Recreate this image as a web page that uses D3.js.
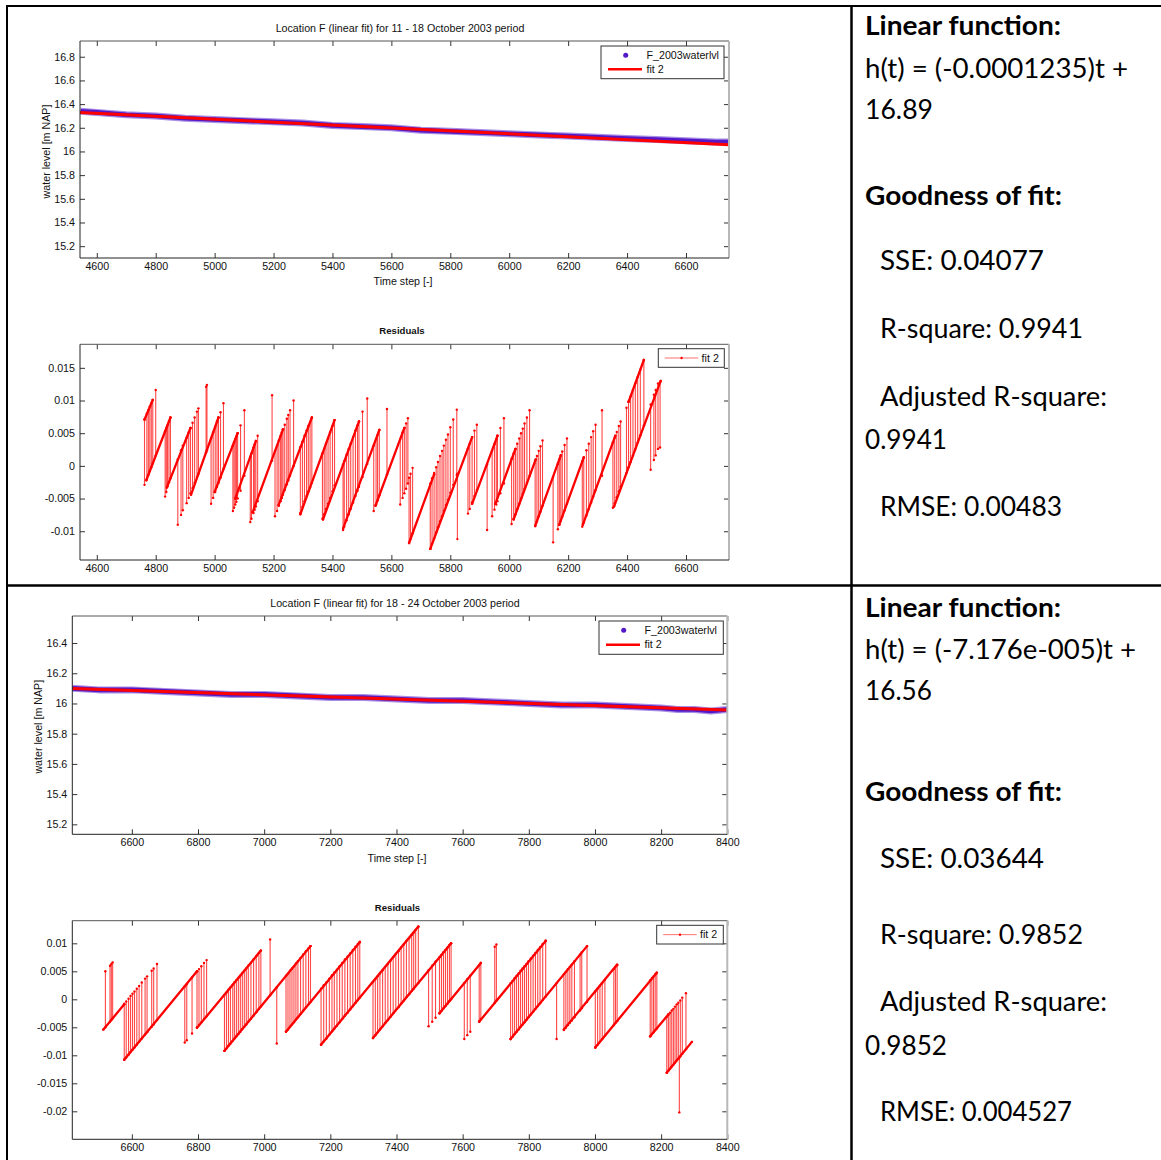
<!DOCTYPE html>
<html>
<head>
<meta charset="utf-8">
<script src="https://cdn.jsdelivr.net/npm/d3@7"></script>
<style>
  body { margin: 0; background: #fff; }
  svg { display: block; }
</style>
</head>
<body>
<svg id="fig" width="1161" height="1160"></svg>
<script>
// ---------------------------------------------------------------
// Location F water level, linear fits for two October 2003 periods
// ---------------------------------------------------------------

const periodTitles = [
  "Location F (linear fit) for 11 - 18 October 2003 period",
  "Location F (linear fit) for 18 - 24 October 2003 period"
];
const seriesName = "F_2003waterlvl";
const fitName = "fit 2";
const residualTitle = "Residuals";
const xAxisTitle = "Time step [-]";
const yAxisTitle = "water level [m NAP]";

// axis limits (time step, water level, residual)
const timeLimits = [[4543, 6746], [6420, 8400]];
const levelLimits = [[15.1, 16.933], [15.134, 16.579]];
const residualLimits = [[-0.0144, 0.0186], [-0.025, 0.01404]];

// tick values and labels
const timeTicks1 = [4600, 4800, 5000, 5200, 5400, 5600, 5800, 6000, 6200, 6400, 6600];
const timeTicks2 = [6600, 6800, 7000, 7200, 7400, 7600, 7800, 8000, 8200, 8400];
const levelTicks1 = [15.2, 15.4, 15.6, 15.8, 16, 16.2, 16.4, 16.6, 16.8];
const levelTickLabels1 = ["15.2", "15.4", "15.6", "15.8", "16", "16.2", "16.4", "16.6", "16.8"];
const levelTicks2 = [15.2, 15.4, 15.6, 15.8, 16, 16.2, 16.4];
const levelTickLabels2 = ["15.2", "15.4", "15.6", "15.8", "16", "16.2", "16.4"];
const residualTicks1 = [-0.01, -0.005, 0, 0.005, 0.01, 0.015];
const residualTickLabels1 = ["-0.01", "-0.005", "0", "0.005", "0.01", "0.015"];
const residualTicks2 = [-0.02, -0.015, -0.01, -0.005, 0, 0.005, 0.01];
const residualTickLabels2 = ["-0.02", "-0.015", "-0.01", "-0.005", "0", "0.005", "0.01"];

// fitted linear functions h(t) = slope * t + intercept
const fitSlopes = [-0.0001235, -7.176e-5];
const fitIntercepts = [16.89, 16.56];

// observed water level [m NAP]
const level1T = [4545, 4600, 4700, 4800, 4900, 5000, 5100, 5200, 5300, 5400, 5500, 5600,
                 5700, 5800, 5900, 6000, 6100, 6200, 6300, 6400, 6500, 6600, 6700, 6745];
const level1H = [16.34, 16.33, 16.31, 16.30, 16.28, 16.27, 16.26, 16.25, 16.24, 16.22, 16.21, 16.20,
                 16.18, 16.17, 16.16, 16.15, 16.14, 16.13, 16.12, 16.11, 16.10, 16.09, 16.08, 16.08];
const level2T = [6420, 6500, 6600, 6700, 6800, 6900, 7000, 7100, 7200, 7300, 7400, 7500,
                 7600, 7700, 7800, 7900, 8000, 8100, 8200, 8250, 8300, 8350, 8400];
const level2H = [16.10, 16.09, 16.09, 16.08, 16.07, 16.06, 16.06, 16.05, 16.04, 16.04, 16.03, 16.02,
                 16.02, 16.01, 16.00, 15.99, 15.99, 15.98, 15.97, 15.96, 15.96, 15.95, 15.96];

// residual ramps: [t start, residual start, t end, residual end]
const res1Ramps = [
  [4762, 0.0071, 4790, 0.0101], [4768, -0.0022, 4850, 0.0074], [4838, -0.0033, 4918, 0.0058],
  [4920, -0.0044, 5013, 0.0074], [5000, -0.0040, 5078, 0.0050], [5070, -0.0050, 5140, 0.0038],
  [5129, -0.0071, 5232, 0.0056], [5217, -0.0060, 5330, 0.0074], [5291, -0.0074, 5407, 0.0070],
  [5368, -0.0082, 5490, 0.0068], [5436, -0.0096, 5559, 0.0055], [5546, -0.0061, 5644, 0.0058],
  [5660, -0.0118, 5745, -0.0013], [5732, -0.0127, 5874, 0.0044], [5874, -0.0058, 5960, 0.0046],
  [5953, -0.0058, 6021, 0.0026], [6015, -0.0082, 6090, 0.0010], [6088, -0.0092, 6175, 0.0016],
  [6170, -0.0090, 6253, 0.0013], [6250, -0.0090, 6360, 0.0046], [6356, -0.0062, 6514, 0.0130],
  [6405, 0.0098, 6457, 0.0162]
];
// residual jumps between neighbouring levels: [t, lower residual, upper residual]
const res1Flicks = [
  [4762, -0.0029, 0.0071], [4770, -0.0020, 0.0080], [4775, -0.0014, 0.0085], [4780, -0.0008, 0.0091],
  [4785, -0.0002, 0.0096], [4790, 0.0004, 0.0101], [4800, 0.0016, 0.0116], [4832, -0.0047, 0.0053],
  [4836, -0.0040, 0.0058], [4840, -0.0031, 0.0062], [4845, -0.0025, 0.0068], [4850, -0.0019, 0.0074],
  [4875, -0.0090, 0.0010], [4886, -0.0075, 0.0024], [4892, -0.0068, 0.0031], [4905, -0.0057, 0.0043],
  [4912, -0.0049, 0.0051], [4918, -0.0042, 0.0058], [4925, -0.0034, 0.0066], [4932, -0.0026, 0.0074],
  [4940, -0.0017, 0.0083], [4945, -0.0012, 0.0088], [4971, 0.0021, 0.0121], [4974, 0.0024, 0.0124],
  [4988, -0.0058, 0.0042], [4995, -0.0049, 0.0051], [5002, -0.0040, 0.0060], [5008, -0.0032, 0.0068],
  [5013, -0.0026, 0.0074], [5020, -0.0018, 0.0082], [5030, -0.0004, 0.0096], [5062, -0.0069, 0.0031],
  [5066, -0.0064, 0.0036], [5070, -0.0059, 0.0041], [5074, -0.0055, 0.0045], [5078, -0.0050, 0.0050],
  [5088, -0.0038, 0.0062], [5101, -0.0015, 0.0085], [5121, -0.0086, 0.0014], [5125, -0.0081, 0.0019],
  [5132, -0.0072, 0.0028], [5136, -0.0067, 0.0033], [5140, -0.0062, 0.0038], [5146, -0.0054, 0.0046],
  [5195, 0.0008, 0.0108], [5205, -0.0077, 0.0023], [5212, -0.0069, 0.0031], [5218, -0.0061, 0.0039],
  [5224, -0.0054, 0.0046], [5228, -0.0049, 0.0051], [5232, -0.0044, 0.0056], [5238, -0.0037, 0.0063],
  [5245, -0.0028, 0.0072], [5250, -0.0022, 0.0078], [5256, -0.0015, 0.0085], [5268, 0.0000, 0.0100],
  [5291, -0.0072, 0.0029], [5298, -0.0063, 0.0037], [5305, -0.0054, 0.0046], [5312, -0.0046, 0.0054],
  [5318, -0.0039, 0.0061], [5324, -0.0033, 0.0067], [5330, -0.0026, 0.0074], [5366, -0.0081, 0.0019],
  [5372, -0.0074, 0.0026], [5378, -0.0066, 0.0034], [5385, -0.0058, 0.0042], [5392, -0.0049, 0.0051],
  [5400, -0.0039, 0.0061], [5407, -0.0030, 0.0070], [5436, -0.0098, 0.0002], [5440, -0.0093, 0.0007],
  [5448, -0.0083, 0.0017], [5455, -0.0074, 0.0026], [5462, -0.0066, 0.0034], [5470, -0.0056, 0.0044],
  [5478, -0.0046, 0.0054], [5485, -0.0038, 0.0062], [5490, -0.0032, 0.0068], [5502, -0.0017, 0.0083],
  [5518, 0.0003, 0.0103], [5540, -0.0069, 0.0031], [5548, -0.0059, 0.0041], [5553, -0.0053, 0.0047],
  [5559, -0.0045, 0.0055], [5585, -0.0013, 0.0087], [5630, -0.0059, 0.0041], [5638, -0.0049, 0.0051],
  [5644, -0.0042, 0.0058], [5650, -0.0035, 0.0065], [5656, -0.0027, 0.0073], [5660, -0.0118, -0.0018],
  [5665, -0.0112, -0.0012], [5672, -0.0103, -0.0003], [5732, -0.0127, -0.0027], [5738, -0.0119, -0.0019],
  [5745, -0.0111, -0.0011], [5752, -0.0102, -0.0002], [5758, -0.0094, 0.0006], [5765, -0.0085, 0.0015],
  [5772, -0.0077, 0.0023], [5778, -0.0069, 0.0031], [5785, -0.0060, 0.0040], [5792, -0.0052, 0.0048],
  [5800, -0.0041, 0.0059], [5810, -0.0029, 0.0071], [5822, -0.0014, 0.0086], [5824, -0.0112, -0.0012],
  [5860, -0.0073, 0.0027], [5866, -0.0066, 0.0034], [5874, -0.0056, 0.0044], [5882, -0.0046, 0.0054],
  [5890, -0.0037, 0.0063], [5925, -0.0098, 0.0002], [5942, -0.0077, 0.0023], [5950, -0.0067, 0.0033],
  [5956, -0.0059, 0.0041], [5960, -0.0054, 0.0046], [5970, -0.0042, 0.0058], [5982, -0.0027, 0.0073],
  [6008, -0.0089, 0.0011], [6015, -0.0081, 0.0019], [6021, -0.0074, 0.0026], [6027, -0.0066, 0.0034],
  [6034, -0.0058, 0.0042], [6040, -0.0050, 0.0050], [6046, -0.0043, 0.0057], [6052, -0.0035, 0.0065],
  [6060, -0.0026, 0.0074], [6069, -0.0015, 0.0085], [6088, -0.0092, 0.0008], [6094, -0.0085, 0.0015],
  [6100, -0.0077, 0.0023], [6106, -0.0070, 0.0030], [6113, -0.0061, 0.0039], [6149, -0.0117, -0.0017],
  [6165, -0.0097, 0.0003], [6170, -0.0090, 0.0010], [6175, -0.0084, 0.0016], [6180, -0.0078, 0.0022],
  [6188, -0.0068, 0.0032], [6196, -0.0058, 0.0042], [6248, -0.0093, 0.0007], [6253, -0.0087, 0.0013],
  [6262, -0.0076, 0.0024], [6270, -0.0066, 0.0034], [6278, -0.0056, 0.0044], [6285, -0.0047, 0.0053],
  [6293, -0.0037, 0.0063], [6315, -0.0015, 0.0085], [6352, -0.0064, 0.0036], [6358, -0.0057, 0.0043],
  [6365, -0.0048, 0.0052], [6372, -0.0039, 0.0061], [6378, -0.0032, 0.0068], [6398, -0.0011, 0.0089],
  [6405, -0.0002, 0.0098], [6412, 0.0006, 0.0106], [6420, 0.0016, 0.0116], [6428, 0.0026, 0.0126],
  [6436, 0.0036, 0.0136], [6445, 0.0047, 0.0147], [6457, 0.0062, 0.0162], [6480, -0.0006, 0.0094],
  [6491, 0.0009, 0.0109], [6497, 0.0016, 0.0116], [6505, 0.0026, 0.0126], [6512, 0.0028, 0.0128]
];

const res2Ramps = [
  [6514, -0.0054, 6577, -0.0009], [6577, -0.0108, 6797, 0.0050], [6797, -0.0051, 6990, 0.0087],
  [6880, -0.0092, 7140, 0.0095], [7066, -0.0058, 7289, 0.0102], [7172, -0.0081, 7466, 0.0130],
  [7329, -0.0069, 7565, 0.0100], [7530, -0.0025, 7655, 0.0065], [7650, -0.0040, 7851, 0.0104],
  [7745, -0.0071, 7976, 0.0095], [7906, -0.0054, 8067, 0.0062], [8001, -0.0086, 8185, 0.0046],
  [8167, -0.0066, 8222, -0.0027], [8217, -0.0131, 8293, -0.0076]
];
const res2Flicks = [
  [6520, -0.0050, 0.0050], [6534, -0.0040, 0.0060], [6538, -0.0037, 0.0063], [6542, -0.0034, 0.0066],
  [6577, -0.0108, -0.0008], [6583, -0.0104, -0.0004], [6590, -0.0099, 0.0001], [6596, -0.0094, 0.0006],
  [6602, -0.0090, 0.0010], [6608, -0.0086, 0.0014], [6615, -0.0081, 0.0019], [6622, -0.0076, 0.0024],
  [6630, -0.0070, 0.0030], [6640, -0.0063, 0.0037], [6646, -0.0059, 0.0041], [6660, -0.0049, 0.0051],
  [6666, -0.0045, 0.0055], [6676, -0.0037, 0.0063], [6760, -0.0077, 0.0023], [6766, -0.0073, 0.0027],
  [6782, -0.0061, 0.0039], [6797, -0.0050, 0.0050], [6803, -0.0046, 0.0054], [6810, -0.0041, 0.0059],
  [6818, -0.0035, 0.0065], [6826, -0.0030, 0.0070], [6880, -0.0092, 0.0008], [6886, -0.0088, 0.0012],
  [6892, -0.0083, 0.0017], [6898, -0.0079, 0.0021], [6905, -0.0074, 0.0026], [6910, -0.0070, 0.0030],
  [6916, -0.0066, 0.0034], [6922, -0.0062, 0.0038], [6928, -0.0058, 0.0042], [6934, -0.0053, 0.0047],
  [6940, -0.0049, 0.0051], [6946, -0.0045, 0.0055], [6952, -0.0040, 0.0060], [6960, -0.0035, 0.0065],
  [6968, -0.0029, 0.0071], [6976, -0.0023, 0.0077], [6984, -0.0017, 0.0083], [6990, -0.0013, 0.0087],
  [7018, 0.0007, 0.0107], [7038, -0.0079, 0.0021], [7066, -0.0058, 0.0042], [7072, -0.0054, 0.0046],
  [7078, -0.0049, 0.0051], [7084, -0.0045, 0.0055], [7090, -0.0041, 0.0059], [7096, -0.0036, 0.0064],
  [7102, -0.0032, 0.0068], [7110, -0.0026, 0.0074], [7118, -0.0020, 0.0080], [7126, -0.0014, 0.0086],
  [7134, -0.0009, 0.0091], [7140, -0.0005, 0.0095], [7172, -0.0081, 0.0019], [7180, -0.0075, 0.0025],
  [7188, -0.0070, 0.0030], [7197, -0.0063, 0.0037], [7205, -0.0057, 0.0043], [7212, -0.0052, 0.0048],
  [7220, -0.0047, 0.0053], [7228, -0.0041, 0.0059], [7236, -0.0035, 0.0065], [7244, -0.0029, 0.0071],
  [7252, -0.0024, 0.0076], [7260, -0.0018, 0.0082], [7268, -0.0012, 0.0088], [7276, -0.0006, 0.0094],
  [7283, -0.0001, 0.0099], [7289, 0.0003, 0.0103], [7329, -0.0069, 0.0031], [7336, -0.0064, 0.0036],
  [7343, -0.0059, 0.0041], [7350, -0.0054, 0.0046], [7358, -0.0048, 0.0052], [7366, -0.0042, 0.0058],
  [7374, -0.0037, 0.0063], [7382, -0.0031, 0.0069], [7390, -0.0025, 0.0075], [7398, -0.0019, 0.0081],
  [7406, -0.0014, 0.0086], [7414, -0.0008, 0.0092], [7422, -0.0002, 0.0098], [7430, 0.0004, 0.0104],
  [7438, 0.0009, 0.0109], [7446, 0.0015, 0.0115], [7452, 0.0019, 0.0119], [7458, 0.0024, 0.0124],
  [7466, 0.0029, 0.0129], [7497, -0.0048, 0.0052], [7508, -0.0040, 0.0060], [7518, -0.0033, 0.0067],
  [7530, -0.0025, 0.0075], [7536, -0.0021, 0.0079], [7542, -0.0016, 0.0084], [7548, -0.0012, 0.0088],
  [7554, -0.0008, 0.0092], [7560, -0.0003, 0.0097], [7565, 0.0000, 0.0100], [7605, -0.0071, 0.0029],
  [7614, -0.0064, 0.0036], [7623, -0.0058, 0.0042], [7650, -0.0039, 0.0061], [7655, -0.0035, 0.0065],
  [7697, -0.0006, 0.0094], [7702, -0.0002, 0.0098], [7745, -0.0071, 0.0029], [7751, -0.0067, 0.0033],
  [7757, -0.0062, 0.0038], [7763, -0.0058, 0.0042], [7769, -0.0054, 0.0046], [7775, -0.0049, 0.0051],
  [7781, -0.0045, 0.0055], [7787, -0.0041, 0.0059], [7793, -0.0037, 0.0063], [7799, -0.0032, 0.0068],
  [7806, -0.0027, 0.0073], [7813, -0.0022, 0.0078], [7820, -0.0017, 0.0083], [7827, -0.0012, 0.0088],
  [7834, -0.0007, 0.0093], [7842, -0.0001, 0.0099], [7851, 0.0005, 0.0105], [7884, -0.0071, 0.0029],
  [7906, -0.0055, 0.0045], [7912, -0.0051, 0.0049], [7918, -0.0046, 0.0054], [7924, -0.0042, 0.0058],
  [7930, -0.0038, 0.0062], [7938, -0.0032, 0.0068], [7955, -0.0020, 0.0080], [7960, -0.0016, 0.0084],
  [7976, -0.0005, 0.0095], [8001, -0.0086, 0.0014], [8008, -0.0081, 0.0019], [8015, -0.0076, 0.0024],
  [8022, -0.0071, 0.0029], [8030, -0.0065, 0.0035], [8057, -0.0046, 0.0054], [8062, -0.0042, 0.0058],
  [8067, -0.0039, 0.0061], [8167, -0.0066, 0.0034], [8172, -0.0062, 0.0038], [8177, -0.0059, 0.0041],
  [8182, -0.0055, 0.0045], [8187, -0.0052, 0.0048], [8217, -0.0131, -0.0031], [8222, -0.0127, -0.0027],
  [8227, -0.0124, -0.0024], [8232, -0.0120, -0.0020], [8237, -0.0117, -0.0017], [8242, -0.0113, -0.0013],
  [8247, -0.0109, -0.0009], [8252, -0.0106, -0.0006], [8255, -0.0202, -0.0104], [8258, -0.0102, -0.0002],
  [8264, -0.0097, 0.0003], [8275, -0.0089, 0.0011]
];

// goodness-of-fit statistics
const fitEquations = ["h(t) = (-0.0001235)t +", "h(t) = (-7.176e-005)t +"];
const fitInterceptLabels = ["16.89", "16.56"];
const sseValues = ["0.04077", "0.03644"];
const rsquareValues = ["0.9941", "0.9852"];
const adjRsquareValues = ["0.9941", "0.9852"];
const rmseValues = ["0.00483", "0.004527"];

// ---------------------------------------------------------------
// drawing
// ---------------------------------------------------------------
const W = 1161, H = 1160;
const svg = d3.select("#fig");
svg.append("rect").attr("width", W).attr("height", H).attr("fill", "#fff");

const chartFont = "'Liberation Sans', Arial, Helvetica, sans-serif";
const chartSize = 10.7;
const statFont = "Lato, 'Open Sans', sans-serif";
const purple = "#5418c8";
const red = "#ff0000";

const panelLayout = [
  { x: [80, 729], top: [41, 258], res: [344.3, 560],
    title: [400, 32.3], xlab: [403, 284.5], ylab: [49.5, 151.5], resTitle: [402, 334],
    legTop: [601, 46, 123, 32.7], legRes: [658.3, 348.7, 66, 18.6], clipId: "p1" },
  { x: [72.3, 727.3], top: [616, 834.3], res: [920.7, 1139.3],
    title: [395, 607], xlab: [397, 862], ylab: [41.5, 726.7], resTitle: [397.5, 911],
    legTop: [599, 621, 124.3, 33.3], legRes: [656.7, 925.3, 66.6, 18.7], clipId: "p2" }
];

const panelData = [
  { tTicks: timeTicks1, lTicks: levelTicks1, lLabels: levelTickLabels1,
    rTicks: residualTicks1, rLabels: residualTickLabels1,
    levT: level1T, levH: level1H, ramps: res1Ramps, flicks: res1Flicks },
  { tTicks: timeTicks2, lTicks: levelTicks2, lLabels: levelTickLabels2,
    rTicks: residualTicks2, rLabels: residualTickLabels2,
    levT: level2T, levH: level2H, ramps: res2Ramps, flicks: res2Flicks }
];

const defs = svg.append("defs");

function styleText(sel) {
  sel.attr("font-family", chartFont).attr("font-size", chartSize).attr("fill", "#111");
}

// boxed axes with inward ticks on all four sides
function drawAxes(g, xs, ys, xTicks, xLabels, yTicks, yLabels) {
  const [x0, x1] = xs.range();
  const [yb, yt] = ys.range();
  const tick = 5;

  const bottom = g.append("g").attr("transform", `translate(0,${yb})`)
    .call(d3.axisBottom(xs).tickValues(xTicks).tickFormat((d, i) => xLabels[i])
      .tickSizeInner(-tick).tickSizeOuter(0).tickPadding(4.5));
  const left = g.append("g").attr("transform", `translate(${x0},0)`)
    .call(d3.axisLeft(ys).tickValues(yTicks).tickFormat((d, i) => yLabels[i])
      .tickSizeInner(-tick).tickSizeOuter(0).tickPadding(5));
  const top = g.append("g").attr("transform", `translate(0,${yt})`)
    .call(d3.axisTop(xs).tickValues(xTicks).tickFormat("").tickSizeInner(-tick).tickSizeOuter(0));
  const right = g.append("g").attr("transform", `translate(${x1},0)`)
    .call(d3.axisRight(ys).tickValues(yTicks).tickFormat("").tickSizeInner(-tick).tickSizeOuter(0));

  [bottom, left, top, right].forEach(a => {
    a.select(".domain").remove();
    a.attr("font-family", null).attr("font-size", null);
    a.selectAll(".tick line").attr("stroke", "#333").attr("stroke-width", 1);
    a.selectAll(".tick text").call(styleText);
  });

  g.append("line").attr("x1", x0).attr("x2", x1).attr("y1", yt).attr("y2", yt)
    .attr("stroke", "#555").attr("stroke-width", 1);
  g.append("line").attr("x1", x1).attr("x2", x1).attr("y1", yt).attr("y2", yb)
    .attr("stroke", "#b8b8b8").attr("stroke-width", 2);
  g.append("line").attr("x1", x0).attr("x2", x0).attr("y1", yt).attr("y2", yb)
    .attr("stroke", "#222").attr("stroke-width", 1);
  g.append("line").attr("x1", x0).attr("x2", x1).attr("y1", yb).attr("y2", yb)
    .attr("stroke", "#222").attr("stroke-width", 1);
}

panelLayout.forEach((L, p) => {
  const D = panelData[p];
  const g = svg.append("g");

  const xs = d3.scaleLinear().domain(timeLimits[p]).range(L.x);
  const yl = d3.scaleLinear().domain(levelLimits[p]).range([L.top[1], L.top[0]]);
  const yr = d3.scaleLinear().domain(residualLimits[p]).range([L.res[1], L.res[0]]);

  defs.append("clipPath").attr("id", L.clipId + "a").append("rect")
    .attr("x", L.x[0]).attr("y", L.top[0]).attr("width", L.x[1] - L.x[0]).attr("height", L.top[1] - L.top[0]);
  defs.append("clipPath").attr("id", L.clipId + "b").append("rect")
    .attr("x", L.x[0]).attr("y", L.res[0]).attr("width", L.x[1] - L.x[0]).attr("height", L.res[1] - L.res[0]);

  // ---- water level with linear fit ----
  g.append("text").attr("x", L.title[0]).attr("y", L.title[1]).attr("text-anchor", "middle")
    .text(periodTitles[p]).call(styleText);

  const plotA = g.append("g").attr("clip-path", `url(#${L.clipId}a)`);
  const levelPts = D.levT.map((t, i) => [t, D.levH[i]]);
  const levelLine = d3.line().x(d => xs(d[0])).y(d => yl(d[1]));
  plotA.append("path").attr("d", levelLine(levelPts)).attr("fill", "none")
    .attr("stroke", "#a98ee6").attr("stroke-width", 7).attr("stroke-linejoin", "round");
  plotA.append("path").attr("d", levelLine(levelPts)).attr("fill", "none")
    .attr("stroke", purple).attr("stroke-width", 4.6).attr("stroke-linejoin", "round");

  const tEnds = timeLimits[p];
  const fitPts = tEnds.map(t => [t, fitSlopes[p] * t + fitIntercepts[p]]);
  plotA.append("path").attr("d", levelLine(fitPts)).attr("fill", "none")
    .attr("stroke", red).attr("stroke-width", 3);

  drawAxes(g, xs, yl, D.tTicks, D.tTicks.map(String), D.lTicks, D.lLabels);

  g.append("text").attr("x", L.xlab[0]).attr("y", L.xlab[1]).attr("text-anchor", "middle")
    .text(xAxisTitle).call(styleText);
  g.append("text").attr("transform", `translate(${L.ylab[0]},${L.ylab[1]}) rotate(-90)`)
    .attr("text-anchor", "middle").text(yAxisTitle).call(styleText);

  // legend for water level panel
  const [lx, ly, lw, lh] = L.legTop;
  const leg = g.append("g");
  leg.append("rect").attr("x", lx).attr("y", ly).attr("width", lw).attr("height", lh)
    .attr("fill", "#fff").attr("stroke", "#333").attr("stroke-width", 1);
  leg.append("circle").attr("cx", lx + 24.7).attr("cy", ly + lh * 0.28).attr("r", 2.5).attr("fill", purple);
  leg.append("text").attr("x", lx + 45.5).attr("y", ly + lh * 0.28).attr("dy", "0.35em")
    .text(seriesName).call(styleText);
  leg.append("line").attr("x1", lx + 7).attr("x2", lx + 41).attr("y1", ly + lh * 0.71).attr("y2", ly + lh * 0.71)
    .attr("stroke", red).attr("stroke-width", 2.5);
  leg.append("text").attr("x", lx + 45.5).attr("y", ly + lh * 0.71).attr("dy", "0.35em")
    .text(fitName).call(styleText);

  // ---- residuals ----
  g.append("text").attr("x", L.resTitle[0]).attr("y", L.resTitle[1]).attr("text-anchor", "middle")
    .attr("font-weight", "bold").text(residualTitle).call(styleText).attr("font-size", 9.6);

  const plotB = g.append("g").attr("clip-path", `url(#${L.clipId}b)`);
  plotB.selectAll("line.flick").data(D.flicks).join("line").attr("class", "flick")
    .attr("x1", d => xs(d[0])).attr("x2", d => xs(d[0]))
    .attr("y1", d => yr(d[1])).attr("y2", d => yr(d[2]))
    .attr("stroke", red).attr("stroke-width", 1.1).attr("stroke-opacity", 0.72);
  plotB.selectAll("line.ramp").data(D.ramps).join("line").attr("class", "ramp")
    .attr("x1", d => xs(d[0])).attr("x2", d => xs(d[2]))
    .attr("y1", d => yr(d[1])).attr("y2", d => yr(d[3]))
    .attr("stroke", red).attr("stroke-width", 2.3).attr("stroke-linecap", "round");
  const dots = [];
  D.flicks.forEach(d => { dots.push([d[0], d[1]]); dots.push([d[0], d[2]]); });
  D.ramps.forEach(d => { dots.push([d[0], d[1]]); dots.push([d[2], d[3]]); });
  plotB.selectAll("circle.pt").data(dots).join("circle").attr("class", "pt")
    .attr("cx", d => xs(d[0])).attr("cy", d => yr(d[1])).attr("r", 1.2).attr("fill", red);

  drawAxes(g, xs, yr, D.tTicks, D.tTicks.map(String), D.rTicks, D.rLabels);

  const [rx, ry, rw, rh] = L.legRes;
  const rleg = g.append("g");
  rleg.append("rect").attr("x", rx).attr("y", ry).attr("width", rw).attr("height", rh)
    .attr("fill", "#fff").attr("stroke", "#333").attr("stroke-width", 1);
  rleg.append("line").attr("x1", rx + 6.5).attr("x2", rx + 40).attr("y1", ry + rh / 2).attr("y2", ry + rh / 2)
    .attr("stroke", "#ff7070").attr("stroke-width", 1);
  rleg.append("circle").attr("cx", rx + 23.3).attr("cy", ry + rh / 2).attr("r", 1.2).attr("fill", red);
  rleg.append("text").attr("x", rx + 43.3).attr("y", ry + rh / 2).attr("dy", "0.35em")
    .text(fitName).call(styleText);
});

// ---- statistics column ----
const statRows = [
  { baselines: [35, 78, 119, 205, 270, 338, 406, 449, 516] },
  { baselines: [617, 659, 700, 801, 868, 944, 1011, 1055, 1121] }
];
const equationWidths = [263, 271];
const interceptWidths = [68, 67];
const rmseWidths = [182, 192];

statRows.forEach((row, p) => {
  const b = row.baselines;
  const lines = [
    { text: "Linear function:", x: 865, w: 196, bold: true },
    { text: fitEquations[p], x: 865, w: equationWidths[p] },
    { text: fitInterceptLabels[p], x: 865, w: interceptWidths[p] },
    { text: "Goodness of fit:", x: 865, w: 197, bold: true },
    { text: "SSE: " + sseValues[p], x: 880, w: 164 },
    { text: "R-square: " + rsquareValues[p], x: 880, w: 203 },
    { text: "Adjusted R-square:", x: 880, w: 227 },
    { text: adjRsquareValues[p], x: 865, w: 82 },
    { text: "RMSE: " + rmseValues[p], x: 880, w: rmseWidths[p] }
  ];
  lines.forEach((ln, i) => {
    svg.append("text").attr("x", ln.x).attr("y", b[i])
      .attr("font-family", statFont).attr("font-size", 27)
      .attr("font-weight", ln.bold ? 700 : 400).attr("fill", "#000")
      .attr("textLength", ln.w).attr("lengthAdjust", "spacingAndGlyphs")
      .text(ln.text);
  });
});

// ---- table frame ----
const frame = svg.append("g").attr("stroke", "#000").attr("fill", "none");
frame.append("line").attr("x1", 6).attr("x2", W).attr("y1", 6).attr("y2", 6).attr("stroke-width", 2);
frame.append("line").attr("x1", 7).attr("x2", 7).attr("y1", 5).attr("y2", H).attr("stroke-width", 2);
frame.append("line").attr("x1", 6).attr("x2", W).attr("y1", 585.5).attr("y2", 585.5).attr("stroke-width", 2.5);
frame.append("line").attr("x1", 851.5).attr("x2", 851.5).attr("y1", 5).attr("y2", H).attr("stroke-width", 2.5);
</script>
</body>
</html>
